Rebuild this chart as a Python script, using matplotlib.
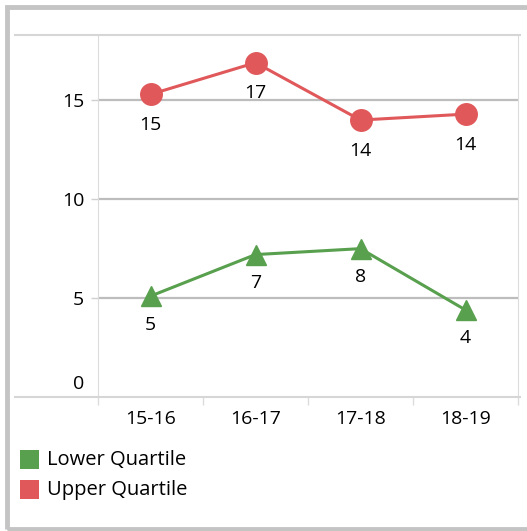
import matplotlib.pyplot as plt
from matplotlib.patches import Rectangle
from matplotlib.lines import Line2D
from matplotlib.transforms import ScaledTranslation

# data
seasons = ['15-16', '16-17', '17-18', '18-19']
lower_quartile = [5.1, 7.2, 7.5, 4.4]
upper_quartile = [15.3, 16.9, 14.0, 14.3]
lower_labels = ['5', '7', '8', '4']
upper_labels = ['15', '17', '14', '14']

RED = '#e0585a'
GREEN = '#58a04e'
W, H = 527, 531
FS = 14

plt.rcParams['font.family'] = ['Open Sans', 'DejaVu Sans']

fig = plt.figure(figsize=(W / 100, H / 100), dpi=100)

# outer grey frame (right edge runs off the picture)
fig.patches.append(Rectangle((7 / W, 2 / H), 1.0, 1 - 9 / H, transform=fig.transFigure,
                             fill=False, edgecolor='#c4c4c4', linewidth=3.5))

ax = fig.add_axes([98 / W, 1 - 397 / H, (518 - 98) / W, (397 - 35) / H])
x = list(range(len(seasons)))

ax.plot(x, upper_quartile, color=RED, linewidth=2.2, marker='o', markersize=15.5, zorder=3)
ax.plot(x, lower_quartile, color=GREEN, linewidth=2.2, marker='^', markersize=14.5, zorder=3)

for xi, v, lab in zip(x, upper_quartile, upper_labels):
    ax.annotate(lab, (xi, v), xytext=(0, -15.5), textcoords='offset points',
                ha='center', va='top', fontsize=FS)
for xi, v, lab in zip(x, lower_quartile, lower_labels):
    ax.annotate(lab, (xi, v), xytext=(0, -14), textcoords='offset points',
                ha='center', va='top', fontsize=FS)

ax.set_xlim(-0.5, 3.5)
ax.set_ylim(0, 18.3)

for gy in [5, 10, 15]:
    ax.axhline(gy, color='#bdbdbd', linewidth=1.6, zorder=1)

ax.set_yticks([0, 5, 10, 15])
ax.set_yticklabels(['0', '5', '10', '15'], fontsize=FS)
ax.tick_params(axis='y', length=5, width=1, color='#d0d0d0', pad=5)
ax.yaxis.get_major_ticks()[0].tick1line.set_visible(False)
ax.get_yticklabels()[0].set_transform(
    ax.get_yticklabels()[0].get_transform() + ScaledTranslation(0, 0.15, fig.dpi_scale_trans))

ax.set_xticks(x)
ax.set_xticklabels(seasons, fontsize=FS)
ax.set_xticks([-0.5, 0.5, 1.5, 2.5, 3.5], minor=True)
ax.tick_params(axis='x', which='major', length=0, pad=9)
ax.tick_params(axis='x', which='minor', length=6, width=1, color='#dcdcdc')

for side in ['top', 'bottom']:
    ax.spines[side].set_visible(False)
ax.spines['left'].set_color('#dcdcdc')
ax.spines['right'].set_color('#dcdcdc')

# full-width rules at the top and bottom of the plot area
for yy in [35, 397]:
    fig.add_artist(Line2D([15 / W, 520 / W], [1 - yy / H, 1 - yy / H],
                          transform=fig.transFigure, color='#d6d6d6', linewidth=1.5))

# legend as coloured squares
for i, (name, col) in enumerate([('Lower Quartile', GREEN), ('Upper Quartile', RED)]):
    top = 450 + i * 30
    fig.patches.append(Rectangle((20 / W, 1 - (top + 19) / H), 19 / W, 19 / H,
                                 transform=fig.transFigure, facecolor=col, edgecolor='none'))
    fig.text(47 / W, 1 - (top + 10) / H, name, fontsize=FS + 0.5, va='center', ha='left')

fig.savefig('out.png', dpi=100)
